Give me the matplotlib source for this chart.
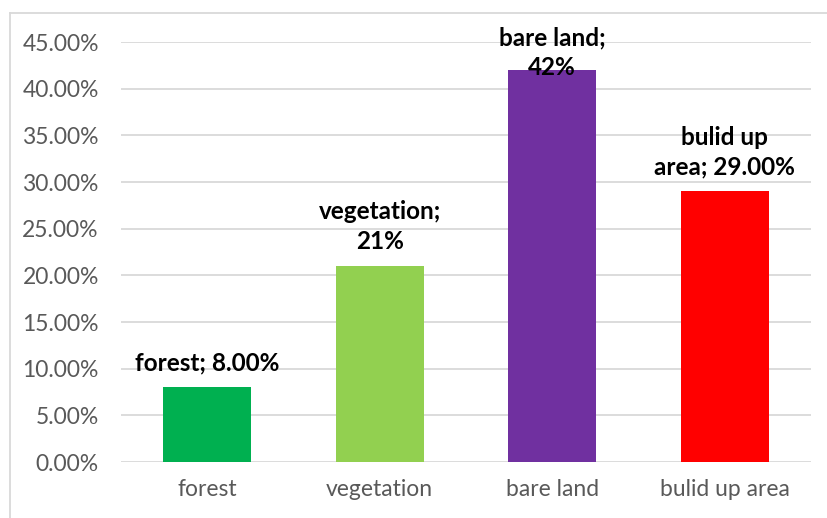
import matplotlib
matplotlib.use('Agg')
import matplotlib.pyplot as plt
from matplotlib.lines import Line2D
from matplotlib.ticker import PercentFormatter

# data
categories = ['forest', 'vegetation', 'bare land', 'bulid up area']
values = [0.08, 0.21, 0.42, 0.29]
bar_labels = ['forest; 8.00%', 'vegetation;\n21%', 'bare land;\n42%', 'bulid up\narea; 29.00%']
colors = ['#00B050', '#92D050', '#7030A0', '#FF0000']
y_ticks = [0.0, 0.05, 0.10, 0.15, 0.20, 0.25, 0.30, 0.35, 0.40, 0.45]

plt.rcParams['font.family'] = ['Lato', 'DejaVu Sans']

fig = plt.figure(figsize=(8.27, 5.18), dpi=100)
ax = fig.add_axes([0.1463, 0.1081, 0.8344, 0.8108])

x = range(len(categories))
ax.bar(x, values, width=0.51, color=colors, zorder=3)

ax.set_xlim(-0.5, len(categories) - 0.5)
ax.set_ylim(0, 0.45)
ax.set_yticks(y_ticks)
ax.yaxis.set_major_formatter(PercentFormatter(1.0, decimals=2))
ax.set_xticks(list(x))
ax.set_xticklabels(categories)

ax.grid(axis='y', color='#D9D9D9', linewidth=1.3, zorder=0)
for s in ax.spines.values():
    s.set_visible(False)
ax.tick_params(axis='both', length=0, labelsize=16.5, colors='#595959')
ax.tick_params(axis='y', pad=16)
ax.tick_params(axis='x', pad=12)

# data labels, pushed down inside the plot when they would run off the top
for i, (v, lab) in enumerate(zip(values, bar_labels)):
    if v > 0.38:
        ax.annotate(lab, xy=(i, 0.45), xytext=(0, 11), textcoords='offset points',
                    ha='center', va='top', fontsize=17.5, fontweight='bold',
                    linespacing=1.34, zorder=4)
    else:
        ax.annotate(lab, xy=(i, v), xytext=(0, 9.5), textcoords='offset points',
                    ha='center', va='bottom', fontsize=17.5, fontweight='bold',
                    linespacing=1.34, zorder=4)

# chart area border
fig.add_artist(Line2D([0.0121, 0.0121], [0, 0.9749], transform=fig.transFigure,
                      color='#D9D9D9', linewidth=1.3))
fig.add_artist(Line2D([0.0121, 1.0], [0.9749, 0.9749], transform=fig.transFigure,
                      color='#D9D9D9', linewidth=1.3))

fig.savefig('out.png', dpi=100)
